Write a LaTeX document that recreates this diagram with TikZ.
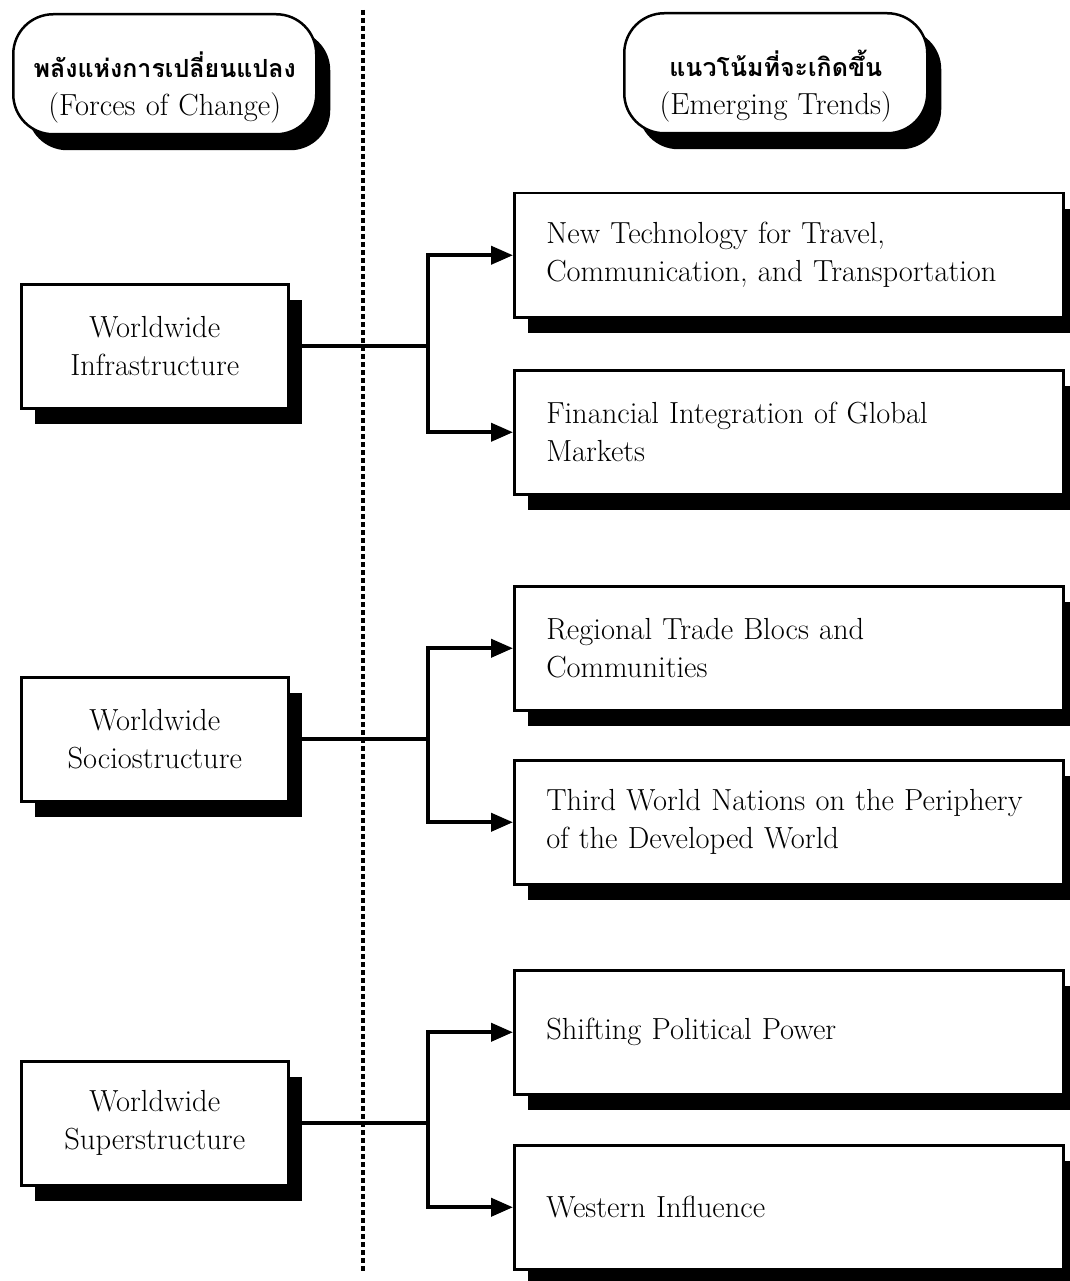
\documentclass[tikz,border=0pt]{standalone}
\usepackage{fontspec}
\newfontfamily\thaifont[Script=Thai]{Loma}
\usetikzlibrary{arrows.meta}
\usetikzlibrary{shadows}

\tikzset{
  box/.style={draw, line width=2.5pt, fill=white, anchor=north west,
    drop shadow={shadow xshift=14pt, shadow yshift=-16pt, opacity=1, fill=black},
    font=\fontsize{30.5}{38}\selectfont},
  head/.style={box, rounded corners=40pt, minimum width=303pt, minimum height=120pt,
    text width=295pt, inner xsep=0pt, align=center},
  force/.style={box, minimum width=267pt, minimum height=124pt,
    text width=255pt, inner xsep=0pt, align=center},
  trend/.style={box, minimum height=124pt, text width=485pt, inner xsep=32pt, align=left},
  link/.style={line width=4pt},
  arr/.style={link, -{Triangle[length=22pt,width=18pt]}},
  divider/.style={line width=4pt, dash pattern=on 5pt off 3pt}
}
\newcommand{\thaihead}[1]{\rule{0pt}{52pt}{\thaifont\bfseries\fontsize{25}{36}\selectfont #1}}

\begin{document}
\begin{tikzpicture}[x=1pt,y=-1pt]
\useasboundingbox (0,0) rectangle (1069,1281);
\coordinate (dtop) at (363,10);
\coordinate (dbot) at (363,1272);
\draw[divider] (dtop) -- (dbot);

\node[head] (hforce) at (12,13) {\thaihead{พลังแห่งการเปลี่ยนแปลง}\\(Forces of Change)};
\node[head] (htrend) at (623,12) {\thaihead{แนวโน้มที่จะเกิดขึ้น}\\(Emerging Trends)};

\node[force] (infra) at (20,283) {Worldwide\\Infrastructure};
\node[force] (socio) at (20,676) {Worldwide\\Sociostructure};
\node[force] (super) at (20,1060) {Worldwide\\Superstructure};

\node[trend] (tech) at (513,192) {New Technology for Travel,\\Communication, and Transportation};
\node[trend] (fin) at (513,369) {Financial Integration of Global\\Markets};
\node[trend] (trade) at (513,585) {Regional Trade Blocs and\\Communities};
\node[trend] (third) at (513,759) {Third World Nations on the Periphery\\of the Developed World};
\node[trend] (shift) at (513,969) {Shifting Political Power};
\node[trend] (west) at (513,1144) {Western Influence};

\draw[link] (infra.east) -- ++(138,0) coordinate (j1);
\draw[arr] (j1) |- (tech.west);
\draw[arr] (j1) |- (fin.west);
\draw[link] (socio.east) -- ++(138,0) coordinate (j2);
\draw[arr] (j2) |- (trade.west);
\draw[arr] (j2) |- (third.west);
\draw[link] (super.east) -- ++(138,0) coordinate (j3);
\draw[arr] (j3) |- (shift.west);
\draw[arr] (j3) |- (west.west);
\end{tikzpicture}
\end{document}
